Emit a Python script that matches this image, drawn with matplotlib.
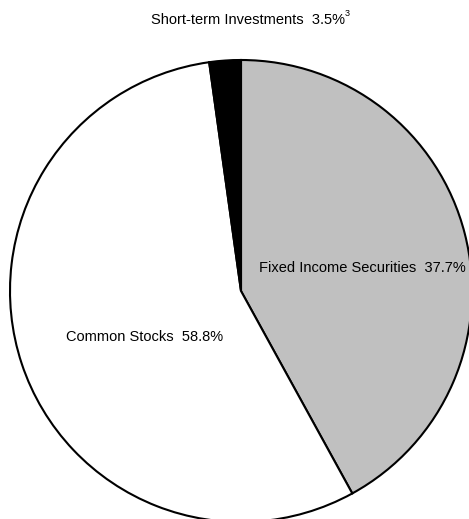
import matplotlib
matplotlib.use('Agg')
import matplotlib.pyplot as plt

# slice sizes as drawn (percent of circle), clockwise from 12 o'clock
sizes = [42.0, 55.8, 2.2]
colors = ['#c0c0c0', '#ffffff', '#000000']
labels = ['Fixed Income Securities  37.7%', 'Common Stocks  58.8%', 'Short-term Investments  3.5%']
footnote = '3'

plt.rcParams['font.family'] = ['Liberation Sans', 'DejaVu Sans']

W, H = 469, 519
fig = plt.figure(figsize=(W / 100, H / 100), dpi=100)
ax = fig.add_axes([0, 0, 1, 1])

cx, cy, r = 241, H - 291, 231
ax.pie(sizes, colors=colors, startangle=90, counterclock=False,
       center=(cx, cy), radius=r, frame=True,
       wedgeprops=dict(edgecolor='black', linewidth=1.5))
ax.set_xlim(0, W)
ax.set_ylim(0, H)
ax.set_aspect('auto')
ax.axis('off')

fs = 10.5
ax.text(259, H - 268, labels[0], fontsize=fs, ha='left', va='center')
ax.text(66, H - 337, labels[1], fontsize=fs, ha='left', va='center')
t = ax.text(151, H - 20, labels[2], fontsize=fs, ha='left', va='center')
# footnote marker as a small raised number right after the percent sign
ax.annotate(footnote, xy=(1, 1), xycoords=t, xytext=(0, 3), textcoords='offset points',
            fontsize=6.5, ha='left', va='top')

fig.savefig('out.png', dpi=100)
